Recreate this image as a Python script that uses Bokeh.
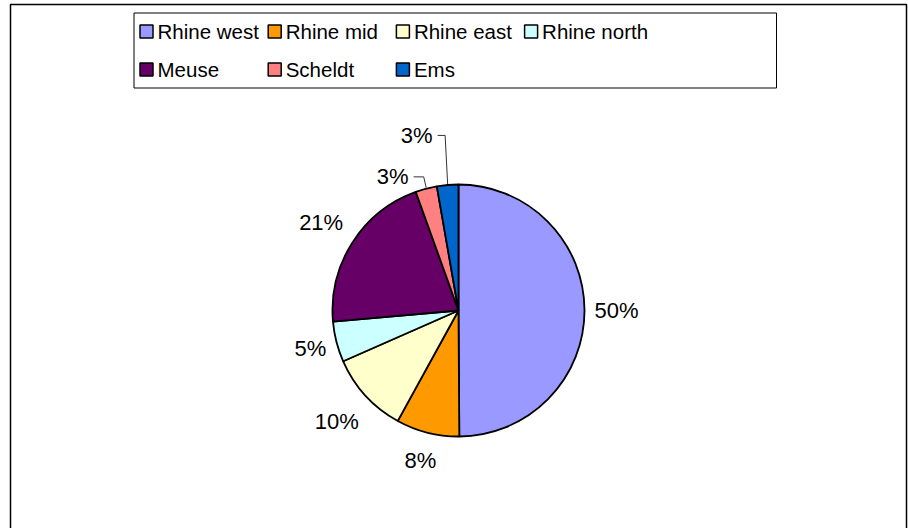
import math
from bokeh.plotting import figure
from bokeh.models import Range1d, ColumnDataSource
from bokeh.core.properties import value
from bokeh.embed import file_html
from bokeh.resources import INLINE

# ---- data ----
regions = ["Rhine west", "Rhine mid", "Rhine east", "Rhine north", "Meuse", "Scheldt", "Ems"]
shares = [49.9, 8.1, 10.4, 5.2, 20.9, 2.75, 2.75]
colors = ["#9999FF", "#FF9900", "#FFFFCC", "#CCFFFF", "#660066", "#FF8080", "#0066CC"]

# ---- layout (pixel-like data space, y measured upward) ----
W, H = 908, 528
CX, CY, R = 458, H - 310, 126
label_dist = [158, 155, 165, 153, 163, 149, 180]
label_shift_deg = [0, 0, 0, 0, 0, -11.4, -8.5]
FONT = "Liberation Sans"

p = figure(width=W, height=H, output_backend="svg", toolbar_location=None,
           x_range=Range1d(0, W), y_range=Range1d(0, H),
           x_axis_type=None, y_axis_type=None, min_border=0)
p.grid.visible = False
p.outline_line_color = None
p.background_fill_color = "white"
p.border_fill_color = "white"

# chart border (open at the bottom, as in the reference)
p.line([10, 10, 906, 906], [0, H - 4, H - 4, 0], line_color="black", line_width=1.5)

# pie wedges
total = sum(shares)
cum = 0.0
starts, ends, mids = [], [], []
for s in shares:
    a0 = cum / total
    cum += s
    a1 = cum / total
    starts.append(math.pi / 2 - 2 * math.pi * a0)
    ends.append(math.pi / 2 - 2 * math.pi * a1)
    mids.append(2 * math.pi * (a0 + a1) / 2)  # clockwise from top

src = ColumnDataSource(dict(x=[CX] * len(shares), y=[CY] * len(shares),
                            start=starts, end=ends, color=colors))
p.wedge(x="x", y="y", radius=R, start_angle="start", end_angle="end",
        direction="clock", fill_color="color", line_color="black",
        line_width=1.8, source=src)

# data labels
lx, ly, lt = [], [], []
for i, s in enumerate(shares):
    th = mids[i] + math.radians(label_shift_deg[i])
    lx.append(CX + label_dist[i] * math.sin(th))
    ly.append(CY + label_dist[i] * math.cos(th))
    lt.append(f"{round(s / total * 100)}%")
p.text(x=lx, y=ly, text=lt, text_font=value(FONT), text_font_size="22px",
       text_align="center", text_baseline="middle", text_color="black")

# leader lines for the small slices (Scheldt, Ems)
for i in (5, 6):
    px = CX + R * math.sin(mids[i])
    py = CY + R * math.cos(mids[i])
    x0 = lx[i] + 21
    p.line([x0, px - 2.5, px], [ly[i], ly[i], py + 1], line_color="#333333", line_width=1)

# legend (manual, Excel-like grid)
p.quad(left=133.5, right=776, top=H - 12.5, bottom=H - 87.5,
       fill_color="white", line_color="black", line_width=1)
ncols = 4
col_w = 128.2
sq = 13
qx, qy, tx, ty = [], [], [], []
for i, name in enumerate(regions):
    c, r = i % ncols, i // ncols
    left = 139.5 + col_w * c
    yc = H - (31 + 38 * r)
    qx.append(left + sq / 2)
    qy.append(yc)
    tx.append(left + 17.5)
    ty.append(yc)
p.rect(x=qx, y=qy, width=sq, height=sq, fill_color=colors, line_color="black", line_width=1.5)
p.text(x=tx, y=ty, text=regions, text_font=value(FONT), text_font_size="20.5px",
       text_align="left", text_baseline="middle", text_color="black")

open("out.html", "w").write(file_html(p, INLINE))
